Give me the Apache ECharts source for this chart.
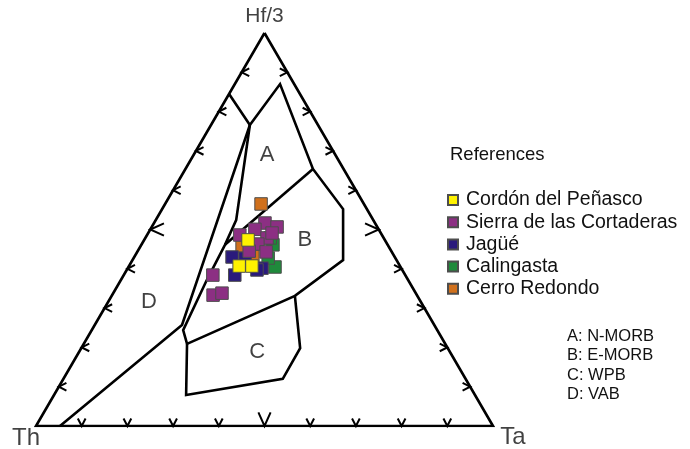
<!DOCTYPE html>
<html>
<head>
<meta charset="utf-8">
<script src="https://cdn.jsdelivr.net/npm/echarts@6/dist/echarts.min.js"></script>
<style>
  html, body { margin: 0; padding: 0; background: #ffffff; }
  #chart { width: 690px; height: 449px; }
</style>
</head>
<body>
<div id="chart"></div>
<script>
// Hf/3 - Th - Ta discrimination diagram (Wood, 1980).
// Every composition is written as [Hf/3, Th, Ta] in percent.

const vertexNames = ['Hf/3', 'Th', 'Ta'];
const vertices = [[100, 0, 0], [0, 100, 0], [0, 0, 100]];
const tickSteps = [10, 20, 30, 40, 50, 60, 70, 80, 90];

// Field boundaries
const boundaryTop = [
  [84.5, 15.5, 0], [76.6, 14.9, 8.5], [87.0, 3.1, 9.9], [65.4, 6.7, 27.9],
  [55.2, 5.2, 39.6], [42.2, 11.7, 46.1], [33.1, 26.8, 40.1], [20.9, 56.5, 22.6]
];
const boundaryOuter = [[76.6, 14.9, 8.5], [25.7, 55.2, 19.1], [0, 94.75, 5.25]];
const boundaryInner = [
  [76.6, 14.9, 8.5], [52.4, 30.0, 17.6], [46.1, 35.6, 18.3],
  [37.2, 44.0, 18.8], [24.4, 55.6, 20.0], [20.9, 56.5, 22.6]
];
const boundaryAB = [[65.4, 6.7, 27.9], [46.1, 35.6, 18.3]];
const boundaryC = [
  [33.1, 26.8, 40.1], [19.8, 32.3, 47.9], [12.0, 40.0, 48.0],
  [7.9, 63.2, 28.9], [20.9, 56.5, 22.6]
];

const fieldNames = ['A', 'B', 'C', 'D'];
const fieldCentres = [[69.0, 15.0, 16.1], [47.3, 17.5, 35.2], [18.8, 42.2, 39.0], [31.6, 59.5, 8.9]];
const fieldKey = ['A: N-MORB', 'B: E-MORB', 'C: WPB', 'D: VAB'];

// Samples
const cordonDelPenasco = [[47.3, 29.9, 22.7], [40.7, 35.2, 24.1], [40.7, 32.4, 26.9]];
const sierraCortaderas = [
  [51.7, 24.1, 24.3], [50.6, 21.9, 27.4], [50.1, 27.1, 22.9], [48.6, 31.1, 20.3],
  [47.8, 25.5, 26.6], [46.3, 28.3, 25.4], [44.3, 27.5, 28.2], [44.5, 31.1, 24.4],
  [38.4, 42.1, 19.5], [33.3, 44.6, 22.1], [33.8, 42.4, 23.8], [49.1, 23.8, 27.1]
];
const jague = [[43.0, 35.6, 21.4], [38.4, 37.3, 24.3], [40.2, 30.5, 29.4], [42.7, 32.9, 24.4], [39.7, 31.8, 28.5]];
const calingasta = [[40.5, 27.5, 32.1], [46.1, 25.1, 28.8], [47.8, 24.8, 27.3], [42.7, 27.8, 29.4]];
const cerroRedondo = [[56.5, 22.5, 21.0], [45.8, 32.0, 22.2], [44.0, 31.6, 26.4]];

const groupNames = ['Cordón del Peñasco', 'Sierra de las Cortaderas', 'Jagüé', 'Calingasta', 'Cerro Redondo'];
const groupData = [cordonDelPenasco, sierraCortaderas, jague, calingasta, cerroRedondo];
const groupColors = ['#fff200', '#8c2f83', '#2a1a7c', '#1f8a3b', '#d0701c'];
const groupZ = [8, 7, 6, 5, 4];

// Ternary -> cartesian (x across the base, y = Hf/3 fraction)
function toXY(c) {
  const s = c[0] + c[1] + c[2];
  const hf = c[0] / s, ta = c[2] / s;
  return [ta + hf / 2, hf];
}

const FONT = 'Liberation Sans, Arial, Helvetica, sans-serif';
const INK = '#111111';

// Tick marks: edge 0 = Th-Ta base, 1 = Th-Hf/3 side, 2 = Ta-Hf/3 side
const tickData = [];
tickSteps.forEach(f => {
  tickData.push(toXY([0, 100 - f, f]).concat([0, f]));
  tickData.push(toXY([f, 100 - f, 0]).concat([1, f]));
  tickData.push(toXY([f, 0, 100 - f]).concat([2, f]));
});
// direction in which each chevron opens (screen space)
const tickAxes = [[0, -1], [1, 0], [-1, 0]];

function lineSeries(points) {
  return {
    type: 'line', data: points.map(toXY), symbol: 'none', silent: true,
    lineStyle: { color: '#000', width: 2.6, join: 'miter' }, z: 3, animation: false
  };
}

const series = [
  lineSeries(vertices.concat([vertices[0]])),
  lineSeries(boundaryTop),
  lineSeries(boundaryOuter),
  lineSeries(boundaryInner),
  lineSeries(boundaryAB),
  lineSeries(boundaryC),
  {
    type: 'custom', data: tickData, encode: { x: 0, y: 1 }, silent: true, z: 3, animation: false,
    renderItem: function (params, api) {
      const p = api.coord([api.value(0), api.value(1)]);
      const n = tickAxes[api.value(2)];
      const t = [-n[1], n[0]];
      const big = api.value(3) === 50;
      const L = big ? 15 : 8.5;
      const a = (big ? 24 : 27) * Math.PI / 180;
      const c = Math.cos(a), s = Math.sin(a);
      const p1 = [p[0] + L * (n[0] * c + t[0] * s), p[1] + L * (n[1] * c + t[1] * s)];
      const p2 = [p[0] + L * (n[0] * c - t[0] * s), p[1] + L * (n[1] * c - t[1] * s)];
      return {
        type: 'polyline', shape: { points: [p1, p, p2] },
        style: { stroke: '#000', lineWidth: 2, fill: null }
      };
    }
  },
  {
    type: 'scatter', silent: true, symbolSize: 0, clip: false, z: 2, animation: false,
    data: fieldCentres.map((c, i) => ({ value: toXY(c), name: fieldNames[i] })),
    label: {
      show: true, position: 'inside', formatter: '{b}',
      fontFamily: FONT, fontSize: 22, color: INK
    }
  },
  {
    type: 'scatter', silent: true, symbolSize: 0, clip: false, z: 2, animation: false,
    data: vertices.map((c, i) => ({
      value: toXY(c), name: vertexNames[i],
      label: { offset: [[0, -17], [-10, 12], [20, 11]][i], fontSize: [21, 24, 24][i] }
    })),
    label: { show: true, position: 'inside', formatter: '{b}', fontFamily: FONT, color: INK }
  }
];

groupNames.forEach((name, i) => {
  series.push({
    name: name, type: 'scatter', symbol: 'rect', symbolSize: 12.5, clip: false,
    z: groupZ[i], animation: false,
    data: groupData[i].map(toXY),
    itemStyle: { color: groupColors[i], borderColor: '#4d4d4d', borderWidth: 1, opacity: 1 }
  });
});

const chart = echarts.init(document.getElementById('chart'));
chart.setOption({
  animation: false,
  backgroundColor: '#ffffff',
  title: [
    {
      text: 'References', left: 445, top: 140,
      textStyle: { fontFamily: FONT, fontSize: 18.5, fontWeight: 'normal', color: INK }
    },
    {
      text: fieldKey.join('\n'), left: 562, top: 322,
      textStyle: { fontFamily: FONT, fontSize: 16.5, fontWeight: 'normal', color: INK, lineHeight: 19.3 }
    }
  ],
  legend: {
    data: groupNames, orient: 'vertical', left: 447, top: 190, padding: 0,
    icon: 'rect', itemWidth: 10, itemHeight: 10, itemGap: 2.2,
    textStyle: { fontFamily: FONT, fontSize: 19.5, color: INK, lineHeight: 19.5, padding: [0, 0, 0, 3] },
    selectedMode: false
  },
  grid: { left: 36, right: 197, top: 33, bottom: 23 },
  xAxis: { type: 'value', min: 0, max: 1, show: false },
  yAxis: { type: 'value', min: 0, max: 1, show: false },
  series: series
});
</script>
</body>
</html>
